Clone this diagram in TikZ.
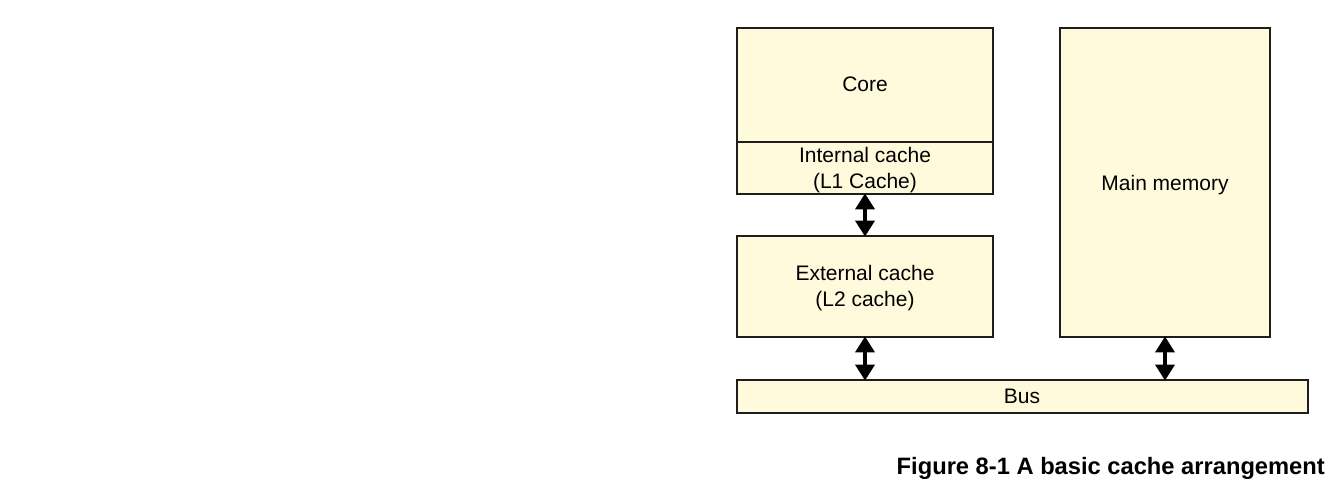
\documentclass[tikz,border=0pt]{standalone}
\usepackage{fontspec}
\setmainfont{Liberation Sans}
\usetikzlibrary{arrows.meta}
\definecolor{boxfill}{RGB}{255,250,220}
\definecolor{boxline}{RGB}{30,30,30}
\tikzset{
  blk/.style={draw=boxline, line width=1.1pt, fill=boxfill},
  lbl/.style={font=\fontsize{21}{25}\selectfont, align=center, inner sep=0pt},
  dbl/.style={line width=3.6pt, {Triangle[width=19pt,length=16pt]}-{Triangle[width=19pt,length=16pt]}, shorten <=-0.6pt, shorten >=-0.6pt}
}
\begin{document}
\begin{tikzpicture}[x=1pt,y=-1pt]
\useasboundingbox (0,0) rectangle (1335,482);
% core
\path[blk] (737,28) rectangle (993,142);
\node[lbl] (core) at (865,84) {Core};
\path[blk] (737,142) rectangle (993,194);
\coordinate (l1b) at (865,194);
\node[lbl] (l1) at (865,170) {Internal cache\\[1pt](L1 Cache)};
% external
\path[blk] (737,236) rectangle (993,337);
\coordinate (l2t) at (865,236);
\coordinate (l2b) at (865,337);
\node[lbl] (l2) at (865,288) {External cache\\[1pt](L2 cache)};
% main memory
\path[blk] (1060,28) rectangle (1270,337);
\coordinate (mmb) at (1165,337);
\node[lbl] (mm) at (1165,185) {Main memory};
% bus
\path[blk] (737,380) rectangle (1308,413);
\coordinate (bus1) at (865,380);
\coordinate (bus2) at (1165,380);
\node[lbl] (bus) at (1022,396.5) {Bus};
% arrows
\draw[dbl] (l1b) -- (l2t);
\draw[dbl] (l2b) -- (bus1);
\draw[dbl] (mmb) -- (bus2);
% caption
\node[anchor=base east, inner sep=0pt, font=\fontsize{23.7}{28}\bfseries\selectfont] (cap) at (1325,474) {Figure 8-1 A basic cache arrangement};
\end{tikzpicture}
\end{document}
